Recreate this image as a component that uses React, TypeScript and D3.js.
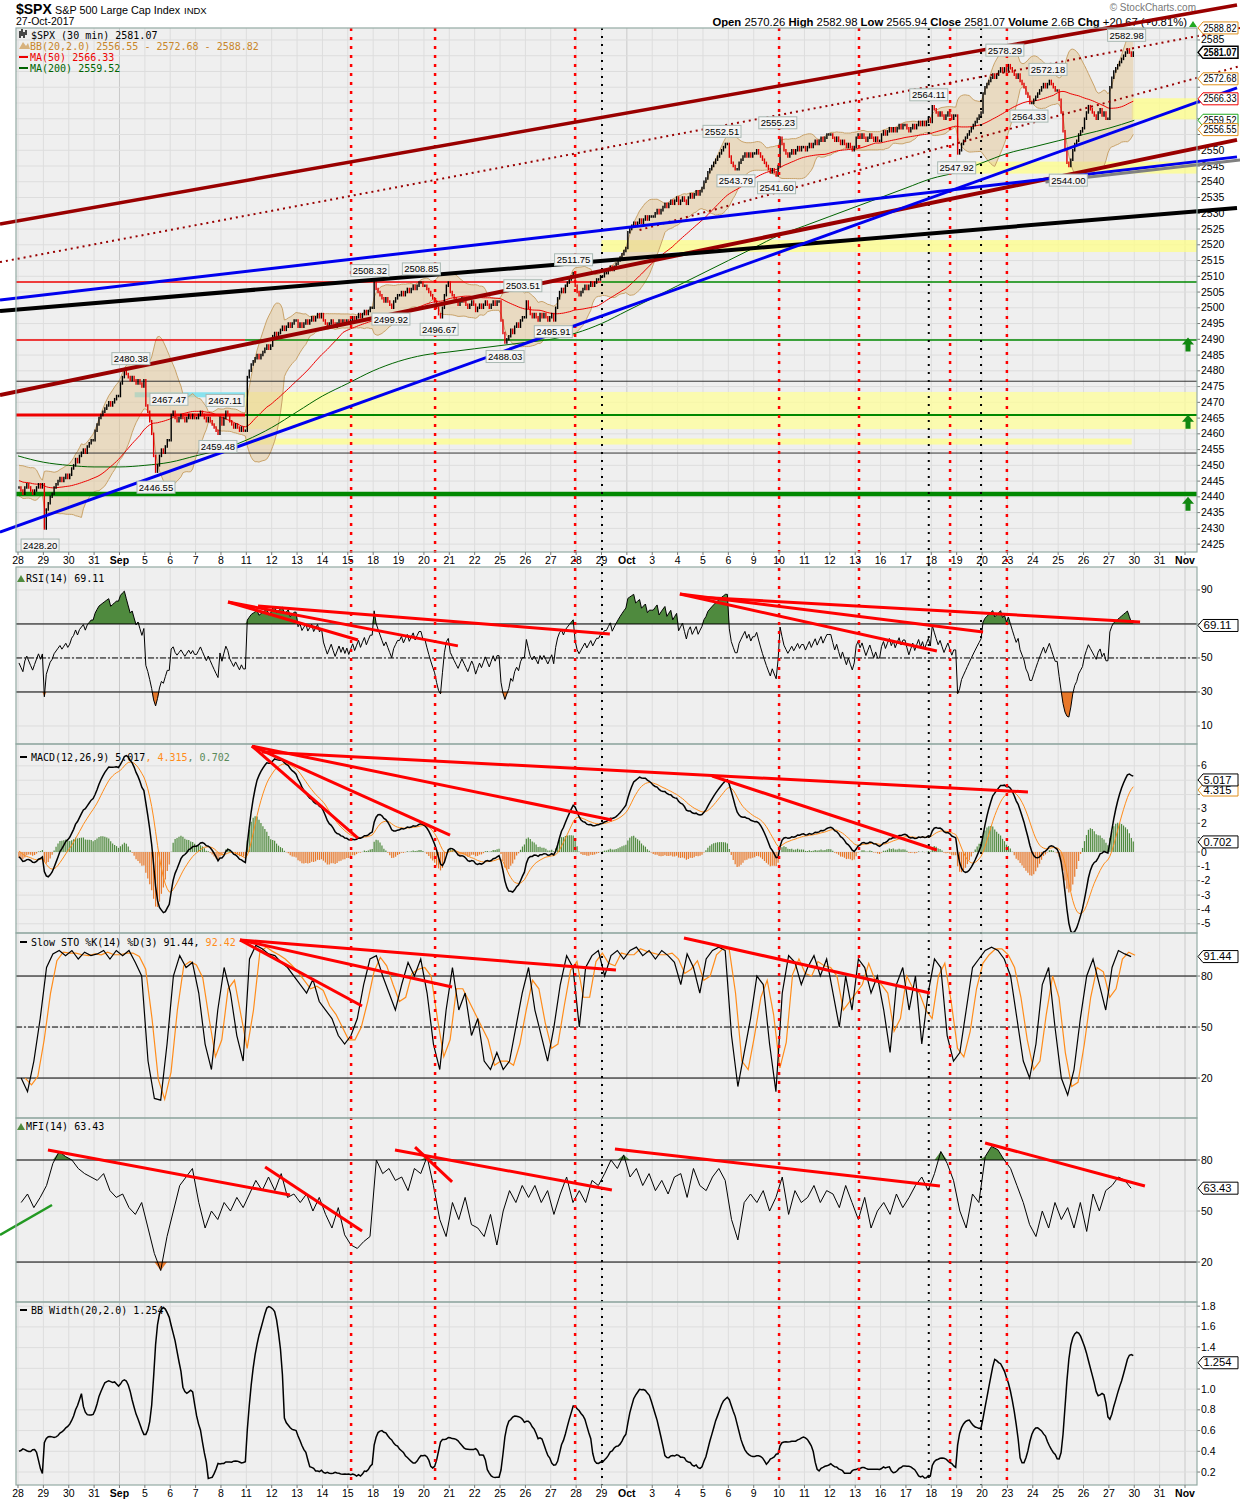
import React from 'react';
import * as d3 from 'd3';

// ---------------- DATA ----------------
const dayLabels = ['28','29','30','31','Sep','5','6','7','8','11','12','13','14','15','18','19','20','21','22','25','26','27','28','29','Oct','3','4','5','6','9','10','11','12','13','16','17','18','19','20','23','24','25','26','27','30','31','Nov'];
const boldLabels = ['Sep', 'Oct', 'Nov'];
const BARS_PER_DAY = 13;

// Aug 25 (warm-up only, not drawn)
const warmupCloses = [2444,2446,2448,2450,2449,2447,2446,2444,2443,2442,2443,2444,2443];

// 30-minute closes, Aug 28 .. Oct 27 (13 bars a day)
const closes = [
  2443,2442,2441,2443,2444,2443,2442,2441,2442,2443,2444,2443,2444, // Aug 28
  2430,2436,2438,2440,2441,2443,2444,2445,2446,2445,2446,2447,2446, // Aug 29
  2447,2449,2450,2452,2451,2453,2454,2455,2454,2456,2457,2458,2458, // Aug 30
  2461,2463,2465,2466,2467,2468,2469,2470,2469,2470,2471,2472,2472, // Aug 31
  2476,2478,2480,2479,2478,2477,2478,2477,2476,2477,2476,2475,2477, // Sep 1
  2469,2467,2464,2460,2453,2448,2450,2453,2455,2454,2456,2458,2458, // Sep 5
  2466,2467,2465,2464,2465,2466,2465,2464,2465,2466,2465,2466,2465, // Sep 6
  2465,2466,2467,2466,2465,2464,2465,2464,2463,2462,2461,2460,2465, // Sep 7
  2463,2465,2467,2466,2464,2463,2462,2463,2462,2461,2462,2461,2461, // Sep 8
  2478,2480,2482,2483,2484,2485,2484,2485,2486,2487,2488,2487,2488, // Sep 11
  2491,2492,2491,2492,2493,2494,2493,2494,2495,2494,2495,2496,2496, // Sep 12
  2494,2495,2494,2495,2496,2495,2496,2497,2496,2497,2498,2497,2498, // Sep 13
  2496,2495,2494,2495,2496,2495,2494,2495,2496,2495,2496,2495,2496, // Sep 14
  2495,2496,2497,2496,2497,2498,2497,2498,2499,2498,2499,2500,2500, // Sep 15
  2508,2506,2505,2504,2503,2502,2503,2502,2501,2500,2502,2503,2504, // Sep 18
  2504,2505,2504,2505,2506,2505,2506,2507,2506,2507,2508,2508,2507, // Sep 19
  2507,2506,2505,2504,2503,2502,2500,2498,2497,2500,2504,2507,2508, // Sep 20
  2505,2504,2503,2502,2501,2502,2503,2502,2501,2500,2501,2502,2501, // Sep 21
  2499,2500,2501,2500,2501,2502,2501,2500,2501,2502,2501,2502,2502, // Sep 22
  2496,2492,2489,2490,2491,2493,2492,2494,2495,2494,2496,2497,2497, // Sep 25
  2502,2500,2498,2497,2498,2497,2496,2498,2497,2498,2497,2496,2497, // Sep 26
  2498,2496,2500,2503,2505,2506,2505,2507,2508,2509,2510,2511,2507, // Sep 27
  2505,2504,2505,2506,2507,2506,2507,2508,2507,2508,2509,2509,2510, // Sep 28
  2510,2511,2511,2512,2513,2512,2513,2514,2515,2516,2517,2518,2519, // Sep 29
  2524,2525,2526,2527,2526,2527,2528,2527,2528,2529,2528,2529,2529, // Oct 2
  2529,2530,2531,2530,2531,2532,2533,2532,2533,2534,2533,2534,2535, // Oct 3
  2533,2534,2535,2534,2533,2535,2536,2535,2536,2537,2536,2537,2538, // Oct 4
  2540,2541,2543,2544,2545,2546,2547,2548,2549,2550,2551,2552,2552, // Oct 5
  2548,2546,2545,2544,2544,2546,2547,2548,2549,2548,2549,2548,2549, // Oct 6
  2549,2550,2549,2548,2547,2546,2545,2544,2543,2544,2543,2542,2545, // Oct 9
  2554,2552,2550,2549,2548,2549,2550,2549,2550,2551,2550,2551,2551, // Oct 10
  2550,2551,2552,2551,2552,2553,2552,2553,2554,2553,2554,2555,2555, // Oct 11
  2555,2554,2553,2554,2553,2552,2553,2552,2551,2552,2551,2550,2551, // Oct 12
  2554,2555,2554,2555,2554,2553,2554,2555,2554,2553,2554,2553,2553, // Oct 13
  2555,2556,2555,2556,2557,2556,2557,2556,2557,2558,2557,2558,2558, // Oct 16
  2557,2556,2557,2558,2557,2558,2559,2558,2559,2558,2559,2560,2559, // Oct 17
  2564,2563,2562,2561,2562,2561,2560,2561,2562,2561,2560,2561,2561, // Oct 18
  2549,2550,2552,2553,2554,2555,2556,2557,2558,2559,2560,2561,2562, // Oct 19
  2568,2570,2571,2572,2573,2574,2573,2574,2575,2576,2575,2576,2575, // Oct 20
  2577,2576,2575,2574,2573,2574,2572,2571,2570,2568,2567,2565,2565, // Oct 23
  2566,2567,2568,2569,2570,2571,2570,2571,2572,2571,2570,2569,2569, // Oct 24
  2566,2562,2556,2550,2546,2545,2547,2550,2552,2553,2555,2556,2557, // Oct 25
  2560,2562,2564,2563,2562,2561,2560,2562,2563,2561,2562,2560,2560, // Oct 26
  2570,2573,2575,2576,2577,2578,2579,2580,2581,2582,2581,2580,2581, // Oct 27
];

// MA(200) read at the start of each trading day (index 0..44)
const ma200Days = [2453,2451,2450,2449.5,2449.5,2450,2451,2453,2455,2458,2462,2467,2472,2476,2480,2483,2485,2486,2487,2488,2489,2490,2492,2495,2499,2503,2507,2511,2515,2519,2523,2526,2529,2532,2535,2538,2541,2543,2546,2549,2551,2553,2555,2557,2559.5];

// MFI(14), four readings a day
const mfiValues = [
  55,60,52,58, 65,78,85,82, 80,75,72,70, 68,72,62,58, 60,52,48,55,
  40,25,15,35, 50,65,70,75, 55,40,50,45, 55,50,58,52, 60,68,62,70,
  62,72,58,60, 55,60,50,58, 48,40,52,36, 30,28,32,35, 80,72,75,68,
  70,62,75,72, 82,65,45,35, 55,45,58,42, 40,35,48,30, 50,62,55,65,
  58,65,55,62, 48,60,70,55, 62,55,68,65, 72,80,75,83, 70,75,65,72,
  62,68,60,70, 72,58,75,65, 62,70,75,68, 45,33,55,60, 55,62,50,58,
  70,48,62,55, 58,65,55,62, 60,52,65,55, 45,58,40,50, 55,48,60,52,
  58,65,70,62, 72,85,78,68, 50,40,60,55, 82,88,86,80, 75,65,55,42,
  35,50,40,55, 45,52,40,55, 38,60,50,62, 65,70,68,63.4,
];

// Slow STO %K(14), four readings a day
const stoKValues = [
  20,12,30,55, 85,93,95,92, 95,90,94,92, 93,95,90,95, 92,95,88,80,
  30,8,7,40, 80,92,85,88, 70,40,25,60, 85,70,45,30, 90,98,96,93,
  92,88,85,80, 75,70,78,65, 60,55,45,40, 45,55,75,90, 92,80,70,60,
  75,88,80,90, 70,40,25,60, 85,60,70,45, 55,30,25,35, 25,30,50,70,
  85,60,45,30, 50,75,92,85, 50,85,92,95, 80,92,95,90, 95,97,92,95,
  90,95,92,88, 75,93,85,70, 90,95,97,95, 45,15,35,55, 80,75,40,12,
  70,92,88,75, 85,92,80,90, 70,50,80,60, 90,85,70,80, 60,35,75,85,
  60,80,40,70, 90,85,45,30, 35,60,85,90, 95,97,95,90, 80,55,30,20,
  40,75,85,50, 20,10,25,55, 80,90,75,60, 85,95,93,91.4,
];

// annotations (day index, value)
const redVLines = [13.13, 16.44, 21.96, 30.0, 33.15, 36.74, 38.98];
const blackVLines = [23.02, 35.9, 37.96];

const callouts = [
  { t: '2480.38', d: 4.45, p: 2480.38, up: true },
  { t: '2467.47', d: 5.95, p: 2467.47, up: true },
  { t: '2467.11', d: 8.16, p: 2467.11, up: true },
  { t: '2459.48', d: 7.88, p: 2459.48, up: false },
  { t: '2446.55', d: 5.44, p: 2446.55, up: false },
  { t: '2428.20', d: 0.87, p: 2428.2, up: false },
  { t: '2508.32', d: 13.87, p: 2508.32, up: true },
  { t: '2508.85', d: 15.9, p: 2508.85, up: true },
  { t: '2499.92', d: 14.7, p: 2499.92, up: false },
  { t: '2496.67', d: 16.6, p: 2496.67, up: false },
  { t: '2503.51', d: 19.9, p: 2503.51, up: true },
  { t: '2488.03', d: 19.2, p: 2488.03, up: false },
  { t: '2495.91', d: 21.1, p: 2495.91, up: false },
  { t: '2511.75', d: 21.9, p: 2511.75, up: true },
  { t: '2552.51', d: 27.75, p: 2552.51, up: true },
  { t: '2543.79', d: 28.3, p: 2543.79, up: false },
  { t: '2541.60', d: 29.9, p: 2541.6, up: false },
  { t: '2555.23', d: 29.95, p: 2555.23, up: true },
  { t: '2564.11', d: 35.9, p: 2564.11, up: true },
  { t: '2547.92', d: 37.0, p: 2547.92, up: false },
  { t: '2578.29', d: 38.9, p: 2578.29, up: true },
  { t: '2572.18', d: 40.6, p: 2572.18, up: true },
  { t: '2564.33', d: 39.85, p: 2564.33, up: false },
  { t: '2544.00', d: 41.4, p: 2544.0, up: false },
  { t: '2582.98', d: 43.7, p: 2582.98, up: true },
];

const priceTrendLines = [
  { a: [-0.71, 2526.6], b: [48.05, 2596.1], c: '#990000', w: 3.5, dash: '' },
  { a: [-0.71, 2514.5], b: [48.17, 2588.8], c: '#990000', w: 2, dash: '2,4' },
  { a: [24.5, 2524.7], b: [48.17, 2576.7], c: '#990000', w: 2, dash: '2,4' },
  { a: [-0.71, 2472.3], b: [48.05, 2553.3], c: '#990000', w: 4, dash: '' },
  { a: [-0.71, 2499.0], b: [48.05, 2531.7], c: '#000000', w: 4, dash: '' },
  { a: [-0.71, 2502.5], b: [48.05, 2547.9], c: '#0000ee', w: 3, dash: '' },
  { a: [-0.71, 2428.8], b: [48.05, 2569.8], c: '#0000ee', w: 3, dash: '' },
  { a: [40.5, 2539.9], b: [48.17, 2546.9], c: '#808080', w: 3, dash: '' },
];

const levelLines = [
  { p: 2508.2, d0: -0.08, d1: 23.0, c: '#ee0000', w: 1.5 },
  { p: 2508.2, d0: 23.0, d1: 46.5, c: '#008800', w: 1.5 },
  { p: 2489.8, d0: -0.08, d1: 8.95, c: '#ee0000', w: 1.5 },
  { p: 2489.8, d0: 8.95, d1: 46.5, c: '#008800', w: 1.5 },
  { p: 2466.0, d0: -0.08, d1: 8.95, c: '#ee0000', w: 3 },
  { p: 2466.0, d0: 8.95, d1: 46.5, c: '#008800', w: 2 },
  { p: 2476.7, d0: -0.08, d1: 46.5, c: '#333333', w: 1 },
  { p: 2453.9, d0: -0.08, d1: 46.5, c: '#333333', w: 1 },
  { p: 2440.9, d0: -0.08, d1: 46.5, c: '#008800', w: 4.5 },
];

const bands = [
  { p0: 2517.7, p1: 2521.5, d0: 23.0, d1: 48.2, c: '#ffff88' },
  { p0: 2542.6, p1: 2546.4, d0: 36.5, d1: 48.2, c: '#ffff88' },
  { p0: 2559.8, p1: 2566.5, d0: 43.9, d1: 48.2, c: '#ffff88' },
  { p0: 2461.5, p1: 2473.3, d0: 8.95, d1: 48.2, c: '#ffff99' },
  { p0: 2456.6, p1: 2458.5, d0: 8.95, d1: 43.9, c: '#ffff88' },
  { p0: 2471.6, p1: 2473.2, d0: 4.6, d1: 8.95, c: '#66ddee' },
];

const upArrows = [2488.0, 2463.5, 2437.5];

const rsiLines = [
  [[8.28, 82.9], [13.4, 60.6]],
  [[8.28, 82.9], [17.34, 57.1]],
  [[9.46, 80.6], [23.33, 64.1]],
  [[26.09, 87.6], [36.22, 54.1]],
  [[26.09, 87.6], [38.04, 65.3]],
  [[26.69, 85.9], [44.23, 71.2]],
];
const macdLines = [
  [[9.22, 7.38], [13.4, 0.97]],
  [[9.22, 7.38], [17.03, 1.18]],
  [[9.22, 7.38], [23.41, 2.23]],
  [[9.62, 6.96], [39.81, 4.18]],
  [[27.36, 5.29], [36.22, 0.14]],
];
const stoLines = [
  [[8.75, 101.2], [13.56, 62.4]],
  [[8.75, 101.2], [17.11, 73.5]],
  [[8.75, 101.2], [23.57, 83.5]],
  [[26.25, 102.4], [35.95, 70.0]],
];
const mfiLines = [
  [[1.18, 85.9], [10.72, 59.4]],
  [[9.74, 75.9], [13.56, 38.2]],
  [[14.86, 85.9], [23.41, 62.4]],
  [[15.65, 87.6], [17.11, 67.1]],
  [[23.53, 86.5], [36.34, 64.7]],
  [[38.12, 90.0], [44.42, 64.7]],
];

const priceTicks = d3.range(2425, 2586, 5);
const rsiTicks = [90, 70, 50, 30, 10];
const macdTicks = [6, 5, 4, 3, 2, 1, 0, -1, -2, -3, -4, -5];
const stoTicks = [80, 50, 20];
const mfiTicks = [80, 50, 20];
const bbwTicks = [1.8, 1.6, 1.4, 1.2, 1.0, 0.8, 0.6, 0.4, 0.2];

// last-value tags on the right axis
const priceTags = [
  { v: 2588.82, t: '2588.82', c: '#e0901c', b: false },
  { v: 2572.68, t: '2572.68', c: '#e0901c', b: false },
  { v: 2566.33, t: '2566.33', c: '#ee0000', b: false },
  { v: 2559.52, t: '2559.52', c: '#22aa22', b: false },
  { v: 2556.55, t: '2556.55', c: '#e0901c', b: false },
  { v: 2581.07, t: '2581.07', c: '#000000', b: true },
];
const rsiTags = [{ v: 69.11, t: '69.11', c: '#000000', b: false }];
const macdTags = [
  { v: 4.315, t: '4.315', c: '#e0901c', b: false },
  { v: 5.017, t: '5.017', c: '#000000', b: false },
  { v: 0.702, t: '0.702', c: '#000000', b: false },
];
const stoTags = [{ v: 91.44, t: '91.44', c: '#000000', b: false }];
const mfiTags = [{ v: 63.43, t: '63.43', c: '#000000', b: false }];
const bbwTags = [{ v: 1.254, t: '1.254', c: '#000000', b: false }];

// ---------------- HELPERS ----------------
const SANS = "'Liberation Sans', Arial, sans-serif";
const MONO = "'DejaVu Sans Mono', monospace";
const PL = 16, PR = 1197;

function smaArr(a: number[], n: number) {
  return a.map((_, i) => d3.mean(a.slice(Math.max(0, i - n + 1), i + 1)) as number);
}
function sdArr(a: number[], n: number) {
  return a.map((_, i) => {
    const w = a.slice(Math.max(0, i - n + 1), i + 1);
    const m = d3.mean(w) as number;
    return Math.sqrt(d3.mean(w, (v) => (v - m) * (v - m)) as number);
  });
}
function emaArr(a: number[], n: number) {
  const k = 2 / (n + 1);
  let e = a[0];
  return a.map((v, i) => (i === 0 ? e : (e = v * k + e * (1 - k))));
}
function rsiArr(a: number[], n: number) {
  let ag = 0, al = 0;
  const out: number[] = [];
  for (let i = 0; i < a.length; i++) {
    if (i === 0) { out.push(50); continue; }
    const ch = a[i] - a[i - 1];
    const g = Math.max(ch, 0), l = Math.max(-ch, 0);
    if (i <= n) { ag += g / n; al += l / n; }
    else { ag = (ag * (n - 1) + g) / n; al = (al * (n - 1) + l) / n; }
    out.push(al === 0 ? 100 : 100 - 100 / (1 + ag / al));
  }
  return out;
}

const xDay = d3.scaleLinear().domain([0, 46]).range([18, 1185]);
const barDay = (i: number) => Math.floor(i / BARS_PER_DAY) + ((i % BARS_PER_DAY) + 0.5) / BARS_PER_DAY;
const xBar = (i: number) => xDay(barDay(i));
const xQuarter = (i: number) => xDay(Math.floor(i / 4) + ((i % 4) + 0.5) / 4);

const yP = d3.scaleLinear().domain([2422.5, 2588.8]).range([552, 28]);
const yR = d3.scaleLinear().domain([-0.6, 103.5]).range([744, 567]);
const yM = d3.scaleLinear().domain([-5.64, 7.52]).range([933, 744]);
const yS = d3.scaleLinear().domain([-3.5, 105.3]).range([1118, 933]);
const yF = d3.scaleLinear().domain([-3.5, 104.7]).range([1302, 1118]);
const yB = d3.scaleLinear().domain([0.075, 1.84]).range([1485, 1302]);

type TagT = { v: number; t: string; c: string; b: boolean };

function Tag({ y, text, border, bold }: { y: number; text: string; border: string; bold?: boolean }) {
  const x0 = PR + 1;
  const w = 40;
  return (
    <g>
      <polygon points={`${x0},${y} ${x0 + 5},${y - 6} ${x0 + w},${y - 6} ${x0 + w},${y + 6} ${x0 + 5},${y + 6}`} fill="#fff" stroke={border} strokeWidth={bold ? 1.5 : 1} />
      <text x={x0 + 5.5} y={y + 3.6} fontSize={10} fontFamily={SANS} fontWeight={bold ? 'bold' : 'normal'} fill="#000" textLength={text.length > 5 ? 33 : 28} lengthAdjust="spacingAndGlyphs">{text}</text>
    </g>
  );
}

function Panel({ top, bottom, yScale, ticks, fmt, tags }: any) {
  const tagYs = (tags as TagT[]).map((t) => yScale(t.v));
  const visible = (t: number) => tagYs.every((ty: number) => Math.abs(ty - yScale(t)) > 9.5);
  return (
    <g>
      <rect x={PL} y={top} width={PR - PL} height={bottom - top} fill="#efefef" />
      {dayLabels.map((l, i) => (
        <line key={'v' + i} x1={xDay(i)} x2={xDay(i)} y1={top} y2={bottom} stroke={boldLabels.includes(l) ? '#c9c9c9' : '#dddddd'} strokeWidth={1} />
      ))}
      {ticks.map((t: number) => (
        <line key={'h' + t} x1={PL} x2={PR} y1={yScale(t)} y2={yScale(t)} stroke="#dddddd" strokeWidth={1} />
      ))}
      {ticks.map((t: number) => (
        <g key={'t' + t}>
          <line x1={PR} x2={PR + 3} y1={yScale(t)} y2={yScale(t)} stroke="#777" />
          {visible(t) && (
            <text x={PR + 4} y={yScale(t) + 3.5} fontSize={10.5} fontFamily={SANS} fill="#000">{fmt ? fmt(t) : t}</text>
          )}
        </g>
      ))}
    </g>
  );
}

function Tags({ tags, yScale }: { tags: TagT[]; yScale: (v: number) => number }) {
  return <g>{tags.map((t) => <Tag key={t.t} y={yScale(t.v)} text={t.t} border={t.c} bold={t.b} />)}</g>;
}

function PanelBorder({ top, bottom }: { top: number; bottom: number }) {
  return <rect x={PL} y={top} width={PR - PL} height={bottom - top} fill="none" stroke="#93aaa3" strokeWidth={1.2} />;
}

function XLabels({ y }: { y: number }) {
  return (
    <g>
      {dayLabels.map((l, i) => (
        <g key={l + i}>
          <line x1={xDay(i)} x2={xDay(i)} y1={y - 12} y2={y - 9} stroke="#777" />
          <text x={xDay(i)} y={y} textAnchor="middle" fontSize={10.5} fontFamily={SANS} fontWeight={boldLabels.includes(l) ? 'bold' : 'normal'} fill="#000">{l}</text>
        </g>
      ))}
    </g>
  );
}

export default function App() {
  const all = [...warmupCloses, ...closes];
  const W0 = warmupCloses.length;
  const cut = (a: number[]) => a.slice(W0);
  const mid = cut(smaArr(all, 20));
  const sd = cut(sdArr(all, 20));
  const bbUp = mid.map((m, i) => m + 2 * sd[i]);
  const bbLo = mid.map((m, i) => m - 2 * sd[i]);
  const bbw = mid.map((m, i) => ((bbUp[i] - bbLo[i]) / m) * 100);
  const ma50 = cut(smaArr(all, 50));
  const e12 = emaArr(all, 12), e26 = emaArr(all, 26);
  const macdAll = e12.map((v, i) => v - e26[i]);
  const sigAll = emaArr(macdAll, 9);
  const macd = cut(macdAll), sig = cut(sigAll);
  const hist = macd.map((v, i) => v - sig[i]);
  const rsi = cut(rsiArr(all, 14));
  const stoD = smaArr(stoKValues, 2);

  const idx = closes.map((_, i) => i);
  const lineOf = (ys: (v: number) => number, arr: number[]) =>
    d3.line<number>().x((i) => xBar(i)).y((i) => ys(arr[i]))(idx) as string;

  const bbArea = d3.area<number>().x((i) => xBar(i)).y0((i) => yP(bbLo[i])).y1((i) => yP(bbUp[i]))(idx) as string;
  const ma200Path = d3.line<number>().x((v, i) => xDay(i)).y((v) => yP(v)).curve(d3.curveMonotoneX)(ma200Days) as string;

  const qIdx = mfiValues.map((_, i) => i);
  const mfiPath = d3.line<number>().x(xQuarter).y((i) => yF(mfiValues[i]))(qIdx) as string;
  const mfiHi = d3.area<number>().x(xQuarter).y0(yF(80)).y1((i) => yF(Math.max(80, mfiValues[i])))(qIdx) as string;
  const mfiLo = d3.area<number>().x(xQuarter).y0(yF(20)).y1((i) => yF(Math.min(20, mfiValues[i])))(qIdx) as string;
  const stoKPath = d3.line<number>().x(xQuarter).y((i) => yS(stoKValues[i]))(qIdx) as string;
  const stoDPath = d3.line<number>().x((i) => xQuarter(i) + 4).y((i) => yS(stoD[i]))(qIdx) as string;

  const rsiHi = d3.area<number>().x((i) => xBar(i)).y0(yR(70)).y1((i) => yR(Math.max(70, rsi[i])))(idx) as string;
  const rsiLo = d3.area<number>().x((i) => xBar(i)).y0(yR(30)).y1((i) => yR(Math.min(30, rsi[i])))(idx) as string;

  const seg = (ys: (v: number) => number, l: number[][], key: string) => (
    <line key={key} x1={xDay(l[0][0])} y1={ys(l[0][1])} x2={xDay(l[1][0])} y2={ys(l[1][1])} stroke="#ff0000" strokeWidth={3} />
  );

  const panels = [
    { top: 567, bottom: 744 },
    { top: 744, bottom: 933 },
    { top: 933, bottom: 1118 },
    { top: 1118, bottom: 1302 },
    { top: 1302, bottom: 1485 },
  ];

  return (
    <svg width={1240} height={1501} style={{ position: 'absolute', left: 0, top: 0, background: '#fff' }} xmlns="http://www.w3.org/2000/svg">
      <defs>
        <clipPath id="mainClip"><rect x={PL} y={28} width={PR - PL} height={524} /></clipPath>
        <clipPath id="plotR"><rect x={PL} y={567} width={PR - PL} height={177} /></clipPath>
        <clipPath id="plotM"><rect x={PL} y={744} width={PR - PL} height={189} /></clipPath>
        <clipPath id="plotS"><rect x={PL} y={933} width={PR - PL} height={185} /></clipPath>
        <clipPath id="plotF"><rect x={PL} y={1118} width={PR - PL} height={184} /></clipPath>
        <clipPath id="plotB"><rect x={PL} y={1302} width={PR - PL} height={183} /></clipPath>
      </defs>
      <rect x={0} y={0} width={1240} height={1501} fill="#fff" />

      {/* header */}
      <text x={16} y={14} fontSize={14} fontWeight="bold" fontFamily={SANS}>$SPX</text>
      <text x={55} y={14} fontSize={10.8} fontFamily={SANS}>S&amp;P 500 Large Cap Index</text>
      <text x={184} y={14} fontSize={9.5} fontFamily={SANS}>INDX</text>
      <text x={16} y={25} fontSize={10.5} fontFamily={SANS}>27-Oct-2017</text>
      <text x={1196} y={11} fontSize={10} fontFamily={SANS} fill="#777" textAnchor="end">© StockCharts.com</text>
      <text x={1187} y={25.5} fontSize={11.3} fontFamily={SANS} textAnchor="end">
        <tspan fontWeight="bold">Open</tspan> 2570.26 <tspan fontWeight="bold">High</tspan> 2582.98 <tspan fontWeight="bold">Low</tspan> 2565.94 <tspan fontWeight="bold">Close</tspan> 2581.07 <tspan fontWeight="bold">Volume</tspan> 2.6B <tspan fontWeight="bold">Chg</tspan> +20.67 (+0.81%)
      </text>
      <polygon points="1189,27 1193,21 1197,27" fill="#22aa22" />

      {/* main panel */}
      <Panel top={28} bottom={552} yScale={yP} ticks={priceTicks} tags={priceTags} />
      <g clipPath="url(#mainClip)">
        {bands.map((b, i) => (
          <rect key={'b' + i} x={xDay(b.d0)} y={yP(b.p1)} width={xDay(b.d1) - xDay(b.d0)} height={yP(b.p0) - yP(b.p1)} fill={b.c} opacity={0.75} />
        ))}
        <path d={bbArea} fill="#e3c99a" opacity={0.55} />
        <path d={lineOf(yP, bbUp)} fill="none" stroke="#c9a36a" strokeWidth={1} />
        <path d={lineOf(yP, bbLo)} fill="none" stroke="#c9a36a" strokeWidth={1} />
        <path d={ma200Path} fill="none" stroke="#006400" strokeWidth={1} />
        <path d={lineOf(yP, ma50)} fill="none" stroke="#ee0000" strokeWidth={1} />
        {levelLines.map((l, i) => (
          <line key={'l' + i} x1={xDay(l.d0)} x2={xDay(l.d1)} y1={yP(l.p)} y2={yP(l.p)} stroke={l.c} strokeWidth={l.w} />
        ))}
        {closes.map((c, i) => {
          const o = i > 0 ? closes[i - 1] : c;
          const up = c >= o;
          const hi = Math.max(o, c) + 0.4, lo = Math.min(o, c) - 0.4;
          return <line key={'c' + i} x1={xBar(i)} x2={xBar(i)} y1={yP(hi)} y2={yP(lo)} stroke={up ? '#000' : '#e00000'} strokeWidth={1.4} />;
        })}
      </g>
      {upArrows.map((p, i) => (
        <polygon key={'ua' + i} points={`${1188},${yP(p) - 8} ${1182},${yP(p) - 1} ${1185.5},${yP(p) - 1} ${1185.5},${yP(p) + 6} ${1190.5},${yP(p) + 6} ${1190.5},${yP(p) - 1} ${1194},${yP(p) - 1}`} fill="#118811" />
      ))}

      {/* indicator panels */}
      <Panel top={567} bottom={744} yScale={yR} ticks={rsiTicks} tags={rsiTags} />
      <Panel top={744} bottom={933} yScale={yM} ticks={macdTicks} tags={macdTags} />
      <Panel top={933} bottom={1118} yScale={yS} ticks={stoTicks} tags={stoTags} />
      <Panel top={1118} bottom={1302} yScale={yF} ticks={mfiTicks} tags={mfiTags} />
      <Panel top={1302} bottom={1485} yScale={yB} ticks={bbwTicks} tags={bbwTags} fmt={(t: number) => t.toFixed(1)} />

      {/* RSI */}
      <g clipPath="url(#plotR)">
        <path d={rsiHi} fill="#4f8a3e" />
        <path d={rsiLo} fill="#e8782a" />
        <line x1={PL} x2={PR} y1={yR(70)} y2={yR(70)} stroke="#000" />
        <line x1={PL} x2={PR} y1={yR(30)} y2={yR(30)} stroke="#000" />
        <line x1={PL} x2={PR} y1={yR(50)} y2={yR(50)} stroke="#000" strokeDasharray="6,2,2,2" />
        <path d={lineOf(yR, rsi)} fill="none" stroke="#000" strokeWidth={1} />
      </g>
      {/* MACD */}
      <g clipPath="url(#plotM)">
        {hist.map((h, i) => (
          <line key={'h' + i} x1={xBar(i)} x2={xBar(i)} y1={yM(0)} y2={yM(h)} stroke={h >= 0 ? '#4f8a3e' : '#e8782a'} strokeWidth={1.2} />
        ))}
        <path d={lineOf(yM, sig)} fill="none" stroke="#ff8c1a" strokeWidth={1} />
        <path d={lineOf(yM, macd)} fill="none" stroke="#000" strokeWidth={1.5} />
      </g>
      {/* STO */}
      <g clipPath="url(#plotS)">
        <line x1={PL} x2={PR} y1={yS(80)} y2={yS(80)} stroke="#000" />
        <line x1={PL} x2={PR} y1={yS(20)} y2={yS(20)} stroke="#000" />
        <line x1={PL} x2={PR} y1={yS(50)} y2={yS(50)} stroke="#000" strokeDasharray="6,2,2,2" />
        <path d={stoDPath} fill="none" stroke="#ff8c1a" strokeWidth={1.2} />
        <path d={stoKPath} fill="none" stroke="#000" strokeWidth={1.2} />
      </g>
      {/* MFI */}
      <g clipPath="url(#plotF)">
        <path d={mfiHi} fill="#4f8a3e" />
        <path d={mfiLo} fill="#e8782a" />
        <line x1={PL} x2={PR} y1={yF(80)} y2={yF(80)} stroke="#000" />
        <line x1={PL} x2={PR} y1={yF(20)} y2={yF(20)} stroke="#000" />
        <path d={mfiPath} fill="none" stroke="#000" strokeWidth={1} />
      </g>
      {/* BB width */}
      <g clipPath="url(#plotB)">
        <path d={lineOf(yB, bbw)} fill="none" stroke="#000" strokeWidth={1.5} />
      </g>

      {/* vertical markers */}
      {redVLines.map((d, i) => (
        <line key={'rv' + i} x1={xDay(d)} x2={xDay(d)} y1={28} y2={1485} stroke="#ff0000" strokeWidth={2.5} strokeDasharray="3,6" />
      ))}
      {blackVLines.map((d, i) => (
        <line key={'bv' + i} x1={xDay(d)} x2={xDay(d)} y1={28} y2={1485} stroke="#000" strokeWidth={2} strokeDasharray="2,6" />
      ))}

      {/* trend lines */}
      {priceTrendLines.map((l, i) => (
        <line key={'tl' + i} x1={Math.max(0, xDay(l.a[0]))} y1={yP(l.a[1])} x2={xDay(l.b[0])} y2={yP(l.b[1])} stroke={l.c} strokeWidth={l.w} strokeDasharray={l.dash || undefined} />
      ))}
      <line x1={0} y1={1235} x2={52} y2={1205} stroke="#229922" strokeWidth={2.5} />
      <g>{rsiLines.map((l, i) => seg(yR, l, 'r' + i))}</g>
      <g>{macdLines.map((l, i) => seg(yM, l, 'm' + i))}</g>
      <g>{stoLines.map((l, i) => seg(yS, l, 's' + i))}</g>
      <g>{mfiLines.map((l, i) => seg(yF, l, 'f' + i))}</g>

      {/* callouts */}
      {callouts.map((c, i) => {
        const cx = xDay(c.d);
        const cy = c.up ? yP(c.p) - 11 : yP(c.p) + 11;
        return (
          <g key={'co' + i}>
            <rect x={cx - 19} y={cy - 6} width={38} height={12} fill="#f4f4f4" stroke="#a8b8b2" strokeWidth={1} />
            <text x={cx} y={cy + 3.5} fontSize={9.5} fontFamily={SANS} textAnchor="middle">{c.t}</text>
          </g>
        );
      })}

      {/* legend */}
      <g fontFamily={MONO} fontSize={10}>
        <text x={31} y={38.5} fill="#000">$SPX (30 min) 2581.07</text>
        <path d="M20,38 v-7 M22,36 v-7 M24,38 v-6 M26,35 v-5" stroke="#000" strokeWidth={1.4} />
        <polygon points="19,49 23,42 26,46 28,43 30,49" fill="#d7b27e" />
        <text x={30} y={49.5} fill="#c8862a">BB(20,2.0) 2556.55 - 2572.68 - 2588.82</text>
        <line x1={19} x2={28} y1={57} y2={57} stroke="#ee0000" strokeWidth={2} />
        <text x={30} y={60.5} fill="#ee0000">MA(50) 2566.33</text>
        <line x1={19} x2={28} y1={68} y2={68} stroke="#006400" strokeWidth={2} />
        <text x={30} y={71.5} fill="#006400">MA(200) 2559.52</text>

        <polygon points="17,582 21,575 25,582" fill="#4f8a3e" />
        <text x={26} y={582} fill="#000">RSI(14) 69.11</text>
        <line x1={20} x2={27} y1={757} y2={757} stroke="#000" strokeWidth={2} />
        <text x={31} y={761}>MACD(12,26,9) 5.017<tspan fill="#ff8c1a">, 4.315</tspan><tspan fill="#5a8a5a">, 0.702</tspan></text>
        <line x1={20} x2={27} y1={942} y2={942} stroke="#000" strokeWidth={2} />
        <text x={31} y={946}>Slow STO %K(14) %D(3) 91.44, <tspan fill="#ff8c1a">92.42</tspan></text>
        <polygon points="17,1130 21,1123 25,1130" fill="#4f8a3e" />
        <text x={26} y={1130}>MFI(14) 63.43</text>
        <line x1={20} x2={27} y1={1310} y2={1310} stroke="#000" strokeWidth={2} />
        <text x={31} y={1314}>BB Width(20,2.0) 1.254</text>
      </g>

      {/* borders and x labels */}
      <PanelBorder top={28} bottom={552} />
      {panels.map((p, i) => <PanelBorder key={'pb' + i} top={p.top} bottom={p.bottom} />)}
      <XLabels y={564} />
      <XLabels y={1497} />

      {/* right tags */}
      <Tags tags={priceTags} yScale={yP} />
      <Tags tags={rsiTags} yScale={yR} />
      <Tags tags={macdTags} yScale={yM} />
      <Tags tags={stoTags} yScale={yS} />
      <Tags tags={mfiTags} yScale={yF} />
      <Tags tags={bbwTags} yScale={yB} />
    </svg>
  );
}
